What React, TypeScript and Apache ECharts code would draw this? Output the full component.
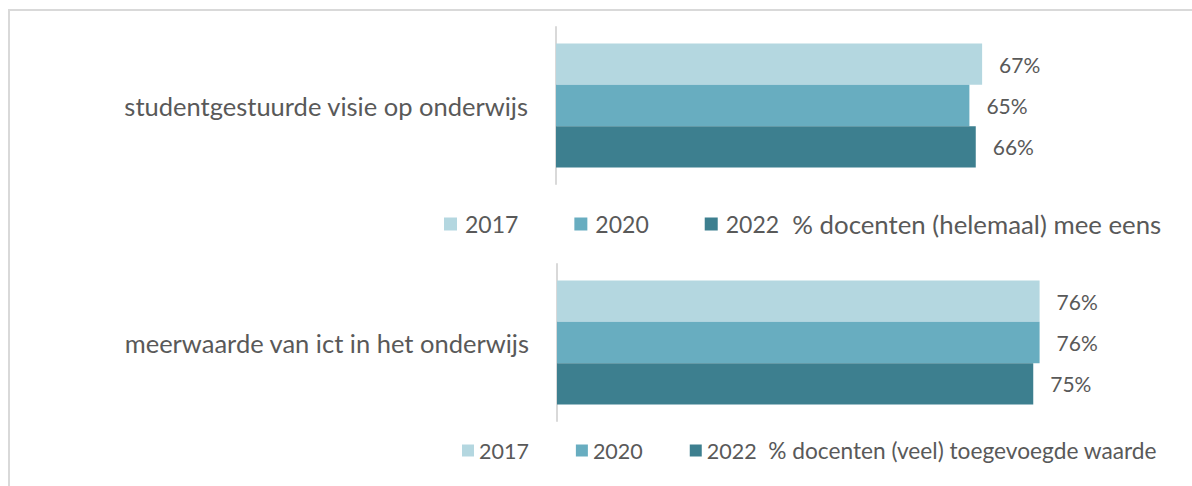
import React, { useEffect, useRef } from "react";
import * as echarts from "echarts";

const years = ["2017", "2020", "2022"];
const colors = ["#b4d7e0", "#68adc0", "#3d7f8f"];

const cat1 = ["studentgestuurde visie op onderwijs"];
const values1 = [67, 65, 66];
const title1 = "% docenten (helemaal) mee eens";

const cat2 = ["meerwaarde van ict in het onderwijs"];
const values2 = [76, 76, 75];
const title2 = "% docenten (veel) toegevoegde waarde";

const FONT = "Lato";
const TXT = "#595959";

export default function App() {
  const ref = useRef<HTMLDivElement>(null);
  useEffect(() => {
    if (!ref.current) return;
    const chart = echarts.init(ref.current, null, { renderer: "svg" });
    const grids = [
      { left: 556, top: 27, width: 640, height: 157 },
      { left: 557, top: 264, width: 640, height: 157 },
    ];
    const mkX = (i: number) => ({
      type: "value",
      gridIndex: i,
      min: 0,
      max: 100,
      show: false,
    });
    const mkY = (i: number, cats: string[], fs: number) => ({
      type: "category",
      gridIndex: i,
      data: cats,
      inverse: true,
      axisLine: { show: true, lineStyle: { color: "#d9d9d9", width: 2 } },
      axisTick: { show: false },
      axisLabel: { fontFamily: FONT, fontSize: fs, color: TXT, margin: 28 },
    });
    const series: any[] = [];
    [values1, values2].forEach((vals, gi) => {
      years.forEach((y, k) => {
        series.push({
          type: "bar",
          name: y,
          xAxisIndex: gi,
          yAxisIndex: gi,
          data: [vals[k]],
          barGap: "0%",
          barCategoryGap: "21%",
          itemStyle: { color: colors[k] },
          label: {
            show: true,
            position: "right",
            distance: 17,
            formatter: "{c}%",
            fontFamily: FONT,
            fontSize: 21,
            color: TXT,
          },
        });
      });
    });
    chart.setOption({
      animation: false,
      grid: grids,
      xAxis: [mkX(0), mkX(1)],
      yAxis: [mkY(0, cat1, 25.5), mkY(1, cat2, 25.5)],
      legend: [
        {
          data: years,
          left: 444,
          top: 211,
          padding: 0,
          icon: "rect",
          itemWidth: 13,
          itemHeight: 13,
          itemGap: 56,
          selectedMode: false,
          formatter: (n: string) =>
            n === "2022" ? "{y|" + n + "}{t|  " + title1 + "}" : "{y|" + n + "}",
          textStyle: {
            fontFamily: FONT,
            color: TXT,
            padding: [0, 0, 0, 3],
            rich: {
              y: { fontFamily: FONT, fontSize: 23, color: TXT },
              t: { fontFamily: FONT, fontSize: 25.8, color: TXT },
            },
          },
        },
        {
          data: years,
          left: 462,
          top: 439,
          padding: 0,
          icon: "rect",
          itemWidth: 12,
          itemHeight: 12,
          itemGap: 47,
          selectedMode: false,
          formatter: (n: string) =>
            n === "2022" ? "{y|" + n + "}{t|  " + title2 + "}" : "{y|" + n + "}",
          textStyle: {
            fontFamily: FONT,
            color: TXT,
            padding: [0, 0, 0, 0],
            rich: {
              y: { fontFamily: FONT, fontSize: 21.5, color: TXT },
              t: { fontFamily: FONT, fontSize: 22.7, color: TXT },
            },
          },
        },
      ],
      graphic: [
        {
          type: "rect",
          shape: { x: 9, y: 10, width: 1250, height: 600 },
          style: { fill: "none", stroke: "#d9d9d9", lineWidth: 2 },
          silent: true,
        },
      ],
      series,
    });
    return () => chart.dispose();
  }, []);
  return (
    <div
      ref={ref}
      style={{ position: "fixed", left: 0, top: 0, width: 1192, height: 486, background: "#fff" }}
    />
  );
}
